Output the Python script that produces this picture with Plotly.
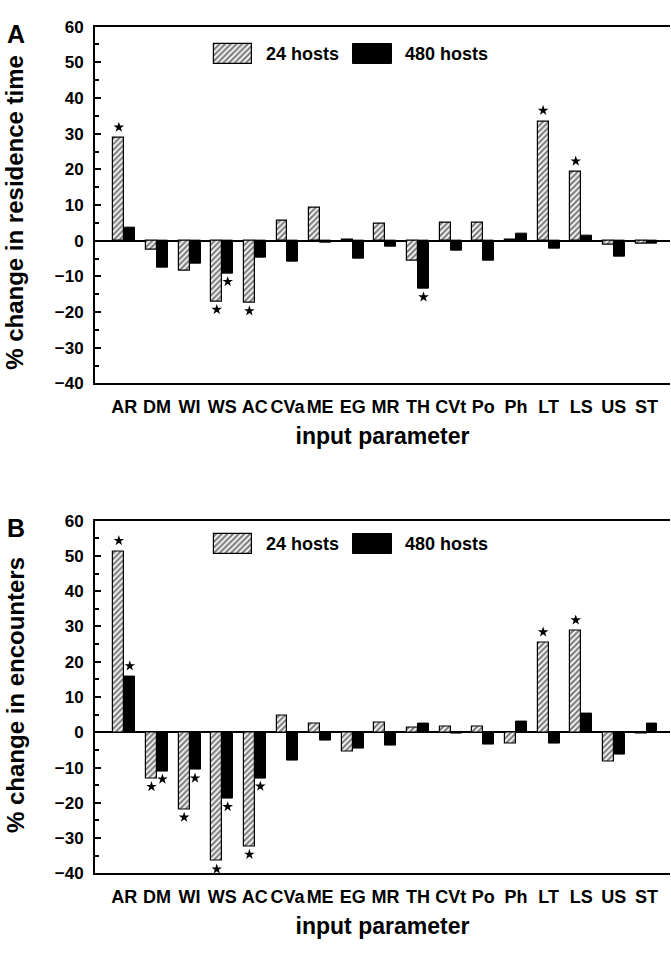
import plotly.graph_objects as go

# Input parameters varied in the sensitivity analysis
params = ["AR", "DM", "WI", "WS", "AC", "CVa", "ME", "EG", "MR",
          "TH", "CVt", "Po", "Ph", "LT", "LS", "US", "ST"]

# % change in residence time
res_24 = [28.8, -2.4, -8.5, -17.0, -17.4, 5.5, 9.3, 0.3, 4.8,
          -5.5, 5.1, 5.1, 0.2, 33.5, 19.3, -1.2, -0.7]
res_480 = [3.7, -7.6, -6.4, -9.2, -4.7, -5.8, -0.6, -5.0, -1.6,
           -13.5, -2.9, -5.5, 2.0, -2.3, 1.3, -4.6, -0.8]

# % change in encounters
enc_24 = [51.3, -13.1, -21.8, -36.5, -32.3, 4.7, 2.6, -5.4, 2.7,
          1.3, 1.6, 1.6, -3.1, 25.4, 28.8, -8.2, -0.3]
enc_480 = [15.8, -11.0, -10.7, -18.8, -13.0, -8.0, -2.3, -4.5, -3.8,
           2.6, -0.5, -3.6, 3.1, -3.3, 5.2, -6.3, 2.6]

# Parameters whose effect is significant (marked with a star)
sig_res_24 = ["AR", "WS", "AC", "LT", "LS"]
sig_res_480 = ["WS", "TH"]
sig_enc_24 = ["AR", "DM", "WI", "WS", "AC", "LT", "LS"]
sig_enc_480 = ["AR", "DM", "WI", "WS", "AC"]

y_ticks = [60, 50, 40, 30, 20, 10, 0, -10, -20, -30, -40]
series_names = ["24 hosts", "480 hosts"]

# ---- layout geometry (pixels) ----
W, H = 671, 953
FONT = "Liberation Sans, Arial, Helvetica, sans-serif"
BAR_W = 0.335
X_LEFT, X_RIGHT = 95, 670


def fx(p):
    return p / W


def fy(p):
    return 1 - p / H


hatch = dict(shape="/", fgcolor="black", bgcolor="white", size=4, solidity=0.55)

panels = [
    dict(xa="x", ya="y", top=18, bottom=382, v24=res_24, v480=res_480,
         s24=sig_res_24, s480=sig_res_480, ytitle="% change in residence time",
         title_mid=208, letter="A"),
    dict(xa="x2", ya="y2", top=522, bottom=882, v24=enc_24, v480=enc_480,
         s24=sig_enc_24, s480=sig_enc_480, ytitle="% change in encounters",
         title_mid=700, letter="B"),
]

fig = go.Figure()
idx = list(range(len(params)))

for p in panels:
    fig.add_trace(go.Bar(
        x=idx, y=p["v24"], width=BAR_W, offset=-BAR_W, name=series_names[0],
        xaxis=p["xa"], yaxis=p["ya"],
        marker=dict(color="white", pattern=hatch,
                    line=dict(color="black", width=1.2)),
    ))
    fig.add_trace(go.Bar(
        x=idx, y=p["v480"], width=BAR_W, offset=0, name=series_names[1],
        xaxis=p["xa"], yaxis=p["ya"],
        marker=dict(color="black", line=dict(color="black", width=1)),
    ))
    # significance stars above positive / below negative bars
    sx, sy = [], []
    for vals, sig, shift in ((p["v24"], p["s24"], -BAR_W / 2),
                             (p["v480"], p["s480"], BAR_W / 2)):
        for name in sig:
            i = params.index(name)
            v = vals[i]
            sx.append(i + shift)
            sy.append(v + 3.0 if v > 0 else v - 2.3)
    fig.add_trace(go.Scatter(
        x=sx, y=sy, mode="markers", xaxis=p["xa"], yaxis=p["ya"],
        marker=dict(symbol="star", size=8, color="black"),
        hoverinfo="skip",
    ))

# ---- legend swatches drawn on a full-page pixel overlay ----
leg_rows = [46, 546]
fig.add_trace(go.Bar(
    x=[233, 233], y=[20, 20], base=[r - 10 for r in leg_rows], width=38,
    offset=-19, xaxis="x3", yaxis="y3",
    marker=dict(color="white", pattern=hatch, line=dict(color="black", width=1.2)),
    hoverinfo="skip",
))
fig.add_trace(go.Bar(
    x=[372, 372], y=[20, 20], base=[r - 10 for r in leg_rows], width=39,
    offset=-19.5, xaxis="x3", yaxis="y3",
    marker=dict(color="black", line=dict(color="black", width=1)),
    hoverinfo="skip",
))

ytick_font = dict(family=FONT, size=17, color="black", weight="bold")
xtick_font = dict(family=FONT, size=18, color="black", weight="bold")
xtitle_font = dict(family=FONT, size=23, color="black", weight="bold")
ytitle_font = dict(family=FONT, size=24, color="black", weight="bold")
legend_font = dict(family=FONT, size=18, color="black", weight="bold")

annotations = []
layout_axes = {}
for k, p in enumerate(panels):
    xname = "xaxis" if k == 0 else "xaxis2"
    yname = "yaxis" if k == 0 else "yaxis2"
    layout_axes[xname] = dict(
        domain=[fx(X_LEFT), fx(X_RIGHT)], range=[-0.898, 16.72],
        anchor=p["ya"], tickvals=idx, ticktext=params, ticks="",
        tickangle=0,
        showline=True, linecolor="black", linewidth=2, mirror=True,
        showgrid=False, zeroline=False, tickfont=xtick_font,
        ticklabelstandoff=6,
        title=dict(text="input parameter", font=xtitle_font, standoff=12),
    )
    layout_axes[yname] = dict(
        domain=[fy(p["bottom"]), fy(p["top"])], range=[-40, 60],
        anchor=p["xa"], tickvals=y_ticks, ticks="inside", ticklen=6,
        tickwidth=2, tickcolor="black",
        minor=dict(dtick=5, ticks="inside", ticklen=4, tickwidth=2,
                   tickcolor="black"),
        showline=True, linecolor="black", linewidth=2, showgrid=False,
        zeroline=True, zerolinecolor="black", zerolinewidth=2,
        tickfont=ytick_font, ticklabelstandoff=6,
    )
    annotations.append(dict(
        text=p["ytitle"], x=fx(15), y=fy(p["title_mid"]), xref="paper",
        yref="paper", textangle=-90, showarrow=False, font=ytitle_font,
        xanchor="center", yanchor="middle",
    ))
    annotations.append(dict(
        text=p["letter"], x=fx(16), y=fy(p["top"] + 8), xref="paper",
        yref="paper", showarrow=False,
        font=dict(family=FONT, size=25, color="black", weight="bold"),
        xanchor="center", yanchor="middle",
    ))
    row = leg_rows[k]
    annotations.append(dict(
        text=series_names[0], x=fx(264), y=fy(row), xref="paper",
        yref="paper", showarrow=False, font=legend_font,
        xanchor="left", yanchor="middle",
    ))
    annotations.append(dict(
        text=series_names[1], x=fx(403), y=fy(row), xref="paper",
        yref="paper", showarrow=False, font=legend_font,
        xanchor="left", yanchor="middle",
    ))

fig.update_layout(
    width=W, height=H, margin=dict(l=0, r=0, t=0, b=0),
    paper_bgcolor="white", plot_bgcolor="rgba(0,0,0,0)",
    showlegend=False, bargap=0, barmode="overlay",
    xaxis3=dict(domain=[0, 1], range=[0, W], anchor="y3", visible=False,
                fixedrange=True),
    yaxis3=dict(domain=[0, 1], range=[H, 0], anchor="x3", visible=False,
                fixedrange=True),
    annotations=annotations,
    **layout_axes,
)

fig.write_html("out.html")
